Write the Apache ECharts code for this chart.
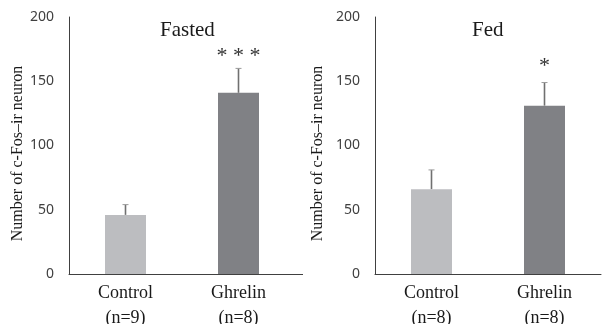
<!DOCTYPE html>
<html>
<head>
<meta charset="utf-8">
<script src="https://cdn.jsdelivr.net/npm/echarts@6/dist/echarts.min.js"></script>
<style>
  html, body { margin: 0; padding: 0; background: #fff; }
  #chart { width: 604px; height: 324px; }
</style>
</head>
<body>
<div id="chart"></div>
<script>
// data
const categoriesFasted = ["Control\n(n=9)", "Ghrelin\n(n=8)"];
const categoriesFed = ["Control\n(n=8)", "Ghrelin\n(n=8)"];
const fastedMean = [46, 141];
const fastedSem = [8, 19];
const fedMean = [66, 131];
const fedSem = [15, 18];
const fastedSig = ["", "* * *"];
const fedSig = ["", "*"];
const yTicks = [0, 50, 100, 150, 200];

const barColors = ["#bcbdc0", "#808185"];
const serif = "'Liberation Serif', 'Times New Roman', serif";
const sans = "'Noto Sans', 'Liberation Sans', sans-serif";

const chart = echarts.init(document.getElementById("chart"));

function xAxisFor(gridIndex, cats) {
  return {
    type: "category",
    gridIndex,
    data: cats,
    axisLine: { lineStyle: { color: "#404040", width: 1 } },
    axisTick: { show: false },
    axisLabel: {
      margin: 7,
      color: "#1a1a1a",
      fontFamily: serif,
      fontSize: 18,
      lineHeight: 25
    }
  };
}

function yAxisFor(gridIndex, gap) {
  return {
    type: "value",
    gridIndex,
    min: 0,
    max: 200,
    interval: 50,
    name: "Number of c-Fos\u2013ir neuron",
    nameLocation: "middle",
    nameGap: gap,
    nameTextStyle: {
      fontFamily: serif,
      fontSize: 16,
      color: "#1a1a1a",
      padding: [0, 16, 0, 0]
    },
    axisLine: { show: true, lineStyle: { color: "#404040", width: 1 } },
    axisTick: { show: false },
    splitLine: { show: false },
    axisLabel: {
      margin: 15,
      color: "#404040",
      fontFamily: sans,
      fontSize: 14,
      formatter: v => (yTicks.indexOf(v) >= 0 ? String(v) : "")
    }
  };
}

function barSeries(idx, mean) {
  return {
    type: "bar",
    xAxisIndex: idx,
    yAxisIndex: idx,
    barWidth: 41,
    data: mean.map((v, i) => ({ value: v, itemStyle: { color: barColors[i] } })),
    silent: true
  };
}

function errSeries(idx, mean, sem, sig, starGap) {
  return {
    type: "custom",
    xAxisIndex: idx,
    yAxisIndex: idx,
    silent: true,
    data: mean.map((v, i) => [i, v, v + sem[i]]),
    renderItem(params, api) {
      const base = api.coord([api.value(0), api.value(1)]);
      const top = api.coord([api.value(0), api.value(2)]);
      const label = sig[params.dataIndex];
      const children = [
        {
          type: "line",
          shape: { x1: base[0], y1: base[1], x2: top[0], y2: top[1] },
          style: { stroke: "#707070", lineWidth: 1.6 }
        },
        {
          type: "line",
          shape: { x1: top[0] - 3, y1: top[1], x2: top[0] + 3, y2: top[1] },
          style: { stroke: "#9a9a9a", lineWidth: 1 }
        }
      ];
      if (label) {
        children.push({
          type: "text",
          style: {
            x: top[0],
            y: top[1] - starGap,
            text: label,
            textAlign: "center",
            textVerticalAlign: "middle",
            fill: "#333",
            font: "22px " + serif
          }
        });
      }
      return { type: "group", children };
    }
  };
}

const option = {
  backgroundColor: "#fff",
  animation: false,
  grid: [
    { left: 69, top: 17, width: 226, bottom: 50, outerBoundsMode: "none" },
    { left: 375, top: 17, width: 226, bottom: 50, outerBoundsMode: "none" }
  ],
  xAxis: [xAxisFor(0, categoriesFasted), xAxisFor(1, categoriesFed)],
  yAxis: [yAxisFor(0, 43), yAxisFor(1, 49)],
  graphic: [
    {
      type: "text",
      left: 160,
      top: 20,
      style: { text: "Fasted", font: "21px " + serif, fill: "#1a1a1a" }
    },
    {
      type: "text",
      left: 472,
      top: 20,
      style: { text: "Fed", font: "21px " + serif, fill: "#1a1a1a" }
    },
    {
      // axis line runs a little past the plot area on the left panel
      type: "line",
      shape: { x1: 295, y1: 274.5, x2: 303, y2: 274.5 },
      style: { stroke: "#404040", lineWidth: 1 }
    }
  ],
  series: [
    barSeries(0, fastedMean),
    errSeries(0, fastedMean, fastedSem, fastedSig, 12),
    barSeries(1, fedMean),
    errSeries(1, fedMean, fedSem, fedSig, 16)
  ]
};

chart.setOption(option);
</script>
</body>
</html>
